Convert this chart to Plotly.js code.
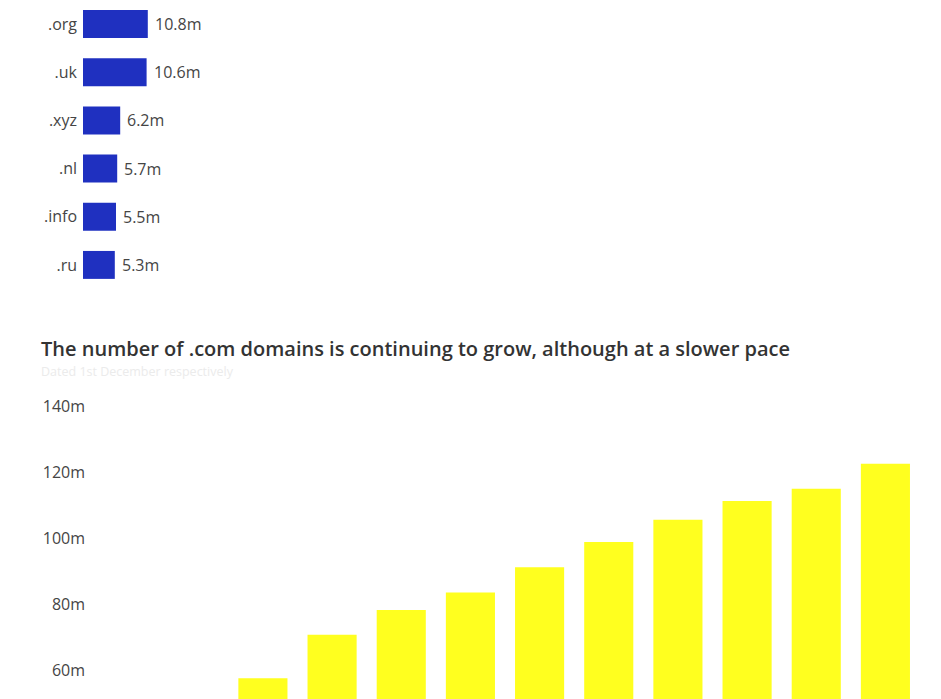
<!DOCTYPE html>
<html>
<head>
<meta charset="utf-8">
<script src="https://cdn.plot.ly/plotly-3.0.1.min.js"></script>
<style>
  html, body { margin: 0; padding: 0; background: #fff; }
  #chart { width: 941px; height: 699px; }
</style>
</head>
<body>
<div id="chart"></div>
<script>
// top chart: registrations per domain ending (visible rows only)
var tlds = ['.org', '.uk', '.xyz', '.nl', '.info', '.ru'];
var tldCounts = [10.8, 10.6, 6.2, 5.7, 5.5, 5.3];

// bottom chart: .com domains, 1st December of each year
var years = [2006, 2007, 2008, 2009, 2010, 2011, 2012, 2013, 2014, 2015];
var comCounts = [57.5, 70.7, 78.2, 83.5, 91.1, 98.8, 105.5, 111.2, 114.9, 122.5];
var comTicks = [60, 80, 100, 120, 140];

var tickFont = { family: 'Open Sans, sans-serif', size: 16, color: '#454545' };

var tldTrace = {
  type: 'bar',
  orientation: 'h',
  x: tldCounts,
  y: tlds,
  xaxis: 'x',
  yaxis: 'y',
  width: 0.58,
  marker: { color: '#1f30c0' },
  hoverinfo: 'none'
};

var comTrace = {
  type: 'bar',
  x: years,
  y: comCounts,
  xaxis: 'x2',
  yaxis: 'y2',
  width: 0.71,
  marker: { color: '#ffff1f' },
  hoverinfo: 'none'
};

// value labels next to the blue bars
var valueLabels = tldCounts.map(function (v, i) {
  return {
    xref: 'x', yref: 'y', x: v, y: tlds[i],
    xanchor: 'left', yanchor: 'middle', xshift: 5,
    showarrow: false,
    text: v.toFixed(1) + 'm',
    font: tickFont
  };
});

var layout = {
  width: 941,
  height: 699,
  margin: { l: 0, r: 0, t: 0, b: 0 },
  paper_bgcolor: '#fff',
  plot_bgcolor: '#fff',
  showlegend: false,
  xaxis: {
    domain: [83 / 941, 920 / 941],
    range: [0, 139.5],
    showgrid: false, zeroline: false, showticklabels: false, showline: false
  },
  yaxis: {
    domain: [1 - 289 / 699, 1],
    type: 'category',
    range: [5.5, -0.5],
    showgrid: false, zeroline: false, showline: false,
    ticks: '', tickfont: tickFont, ticklabelstandoff: 5
  },
  xaxis2: {
    anchor: 'y2',
    domain: [90 / 941, 920 / 941],
    range: [2003.5, 2015.5],
    showgrid: false, zeroline: false, showticklabels: false, showline: false
  },
  yaxis2: {
    anchor: 'x2',
    domain: [0, 301 / 699],
    range: [51.2, 142.4],
    tickmode: 'array',
    tickvals: comTicks,
    ticktext: comTicks.map(function (t) { return t + 'm'; }),
    showgrid: false, zeroline: false, showline: false,
    ticks: '', tickfont: tickFont, ticklabelstandoff: 4
  },
  annotations: valueLabels.concat([
    {
      xref: 'paper', yref: 'paper', x: 39 / 941, y: 1 - 348 / 699,
      xanchor: 'left', yanchor: 'middle', showarrow: false,
      text: 'The number of .com domains is continuing to grow, although at a slower pace',
      font: { family: 'Open Sans, sans-serif', size: 20, color: '#333333', weight: 600 }
    },
    {
      xref: 'paper', yref: 'paper', x: 39 / 941, y: 1 - 371 / 699,
      xanchor: 'left', yanchor: 'middle', showarrow: false,
      text: 'Dated 1st December respectively',
      font: { family: 'Open Sans, sans-serif', size: 12.5, color: '#ebebeb' }
    }
  ])
};

Plotly.newPlot('chart', [tldTrace, comTrace], layout, { displayModeBar: false, staticPlot: true });
</script>
</body>
</html>
